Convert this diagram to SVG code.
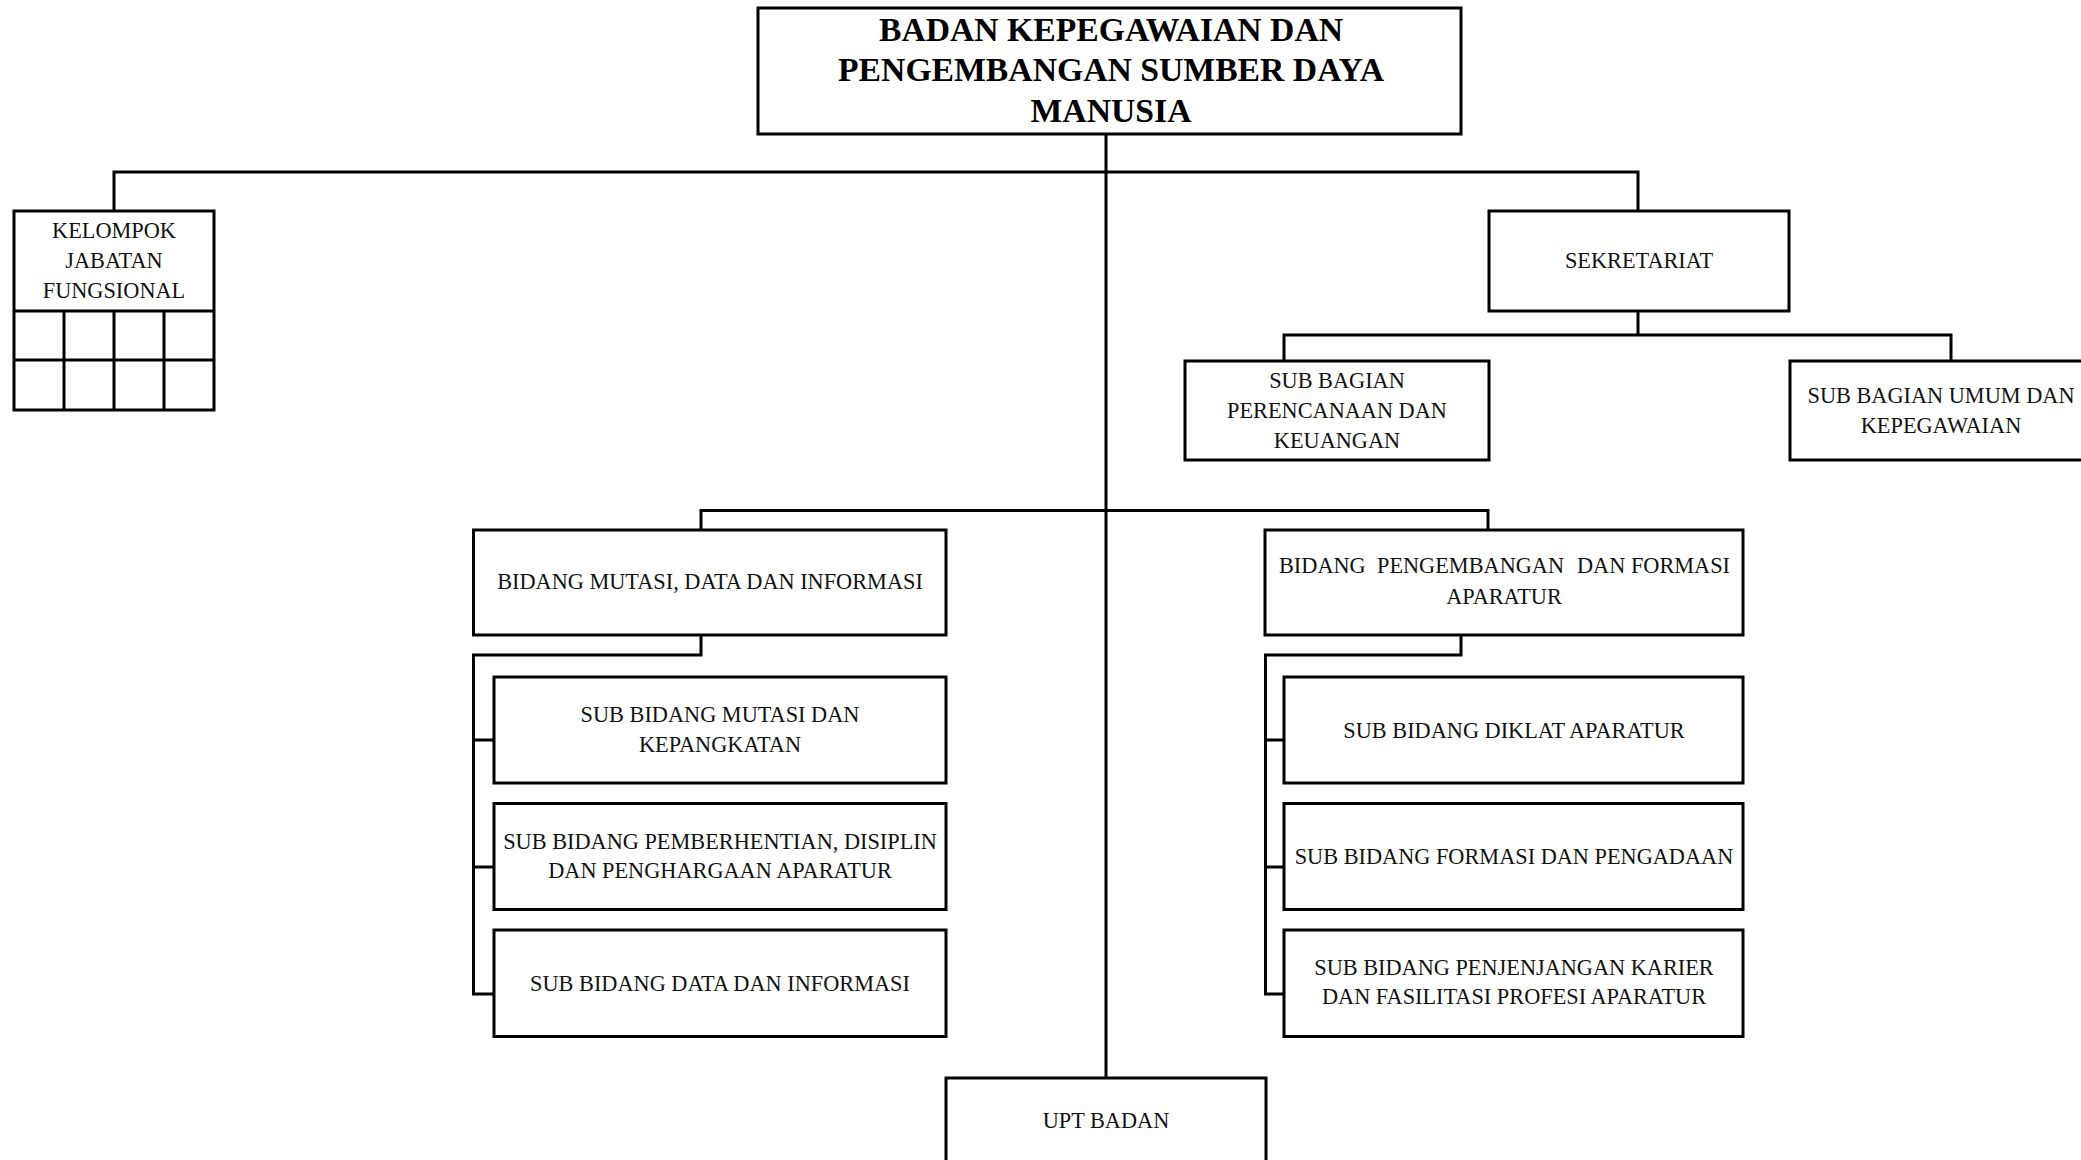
<svg xmlns="http://www.w3.org/2000/svg" width="2081" height="1160" viewBox="0 0 2081 1160">
<style>
.box{fill:#fff;stroke:#000;stroke-width:3}
.ln{fill:none;stroke:#000;stroke-width:3}
.t{font-family:"Liberation Serif","Times New Roman",serif;font-size:22.3px;fill:#111;text-anchor:middle}
.tb{font-family:"Liberation Serif","Times New Roman",serif;font-size:33.7px;font-weight:bold;fill:#000;text-anchor:middle}
</style>
<rect width="2081" height="1160" fill="#fff"/>
<g id="connectors">
<path class="ln" d="M1106,134 V1078"/>
<path class="ln" d="M114,211 V172 H1638 V211"/>
<path class="ln" d="M1638,311 V335"/>
<path class="ln" d="M1284,361 V335 H1951 V361"/>
<path class="ln" d="M701,530 V510.5 H1488 V530"/>
<path class="ln" d="M701,635 V655 H473.5 V994 H494"/>
<path class="ln" d="M473.5,740 H494 M473.5,867 H494"/>
<path class="ln" d="M1461,635 V655 H1265.5 V994 H1284"/>
<path class="ln" d="M1265.5,740 H1284 M1265.5,867 H1284"/>
</g>
<g id="kepala">
<rect class="box" x="758" y="8" width="703" height="126"/>
<text class="tb" x="1111" y="40.5">BADAN KEPEGAWAIAN DAN</text>
<text class="tb" x="1111" y="81">PENGEMBANGAN SUMBER DAYA</text>
<text class="tb" x="1111" y="121.5">MANUSIA</text>
</g>
<g id="kelompok-jabatan-fungsional">
<rect class="box" x="14" y="211" width="200" height="199"/>
<path class="ln" d="M14,311 H214 M14,360 H214 M64,311 V410 M114,311 V410 M164,311 V410"/>
<text class="t" x="114" y="237.5">KELOMPOK</text>
<text class="t" x="114" y="267.5">JABATAN</text>
<text class="t" x="114" y="297.5">FUNGSIONAL</text>
</g>
<g id="sekretariat">
<rect class="box" x="1489" y="211" width="300" height="100"/>
<text class="t" x="1639" y="267.5">SEKRETARIAT</text>
</g>
<g id="sub-bagian-perencanaan">
<rect class="box" x="1185" y="361" width="304" height="99"/>
<text class="t" x="1337" y="387.5">SUB BAGIAN</text>
<text class="t" x="1337" y="417.5">PERENCANAAN DAN</text>
<text class="t" x="1337" y="447.5">KEUANGAN</text>
</g>
<g id="sub-bagian-umum">
<rect class="box" x="1790" y="361" width="304" height="99"/>
<text class="t" x="1941" y="402.5">SUB BAGIAN UMUM DAN</text>
<text class="t" x="1941" y="432.5">KEPEGAWAIAN</text>
</g>
<g id="bidang-mutasi">
<rect class="box" x="473.5" y="530" width="472.5" height="105"/>
<text class="t" x="710" y="589">BIDANG MUTASI, DATA DAN INFORMASI</text>
</g>
<g id="bidang-pengembangan">
<rect class="box" x="1265" y="530" width="478" height="105"/>
<text class="t" style="text-anchor:start" y="573"><tspan x="1279">BIDANG</tspan><tspan x="1377">PENGEMBANGAN</tspan><tspan x="1577">DAN FORMASI</tspan></text>
<text class="t" x="1504" y="603.5">APARATUR</text>
</g>
<g id="sub-bidang-mutasi">
<rect class="box" x="494" y="677" width="452" height="106"/>
<text class="t" x="720" y="722">SUB BIDANG MUTASI DAN</text>
<text class="t" x="720" y="752">KEPANGKATAN</text>
</g>
<g id="sub-bidang-pemberhentian">
<rect class="box" x="494" y="803.5" width="452" height="106"/>
<text class="t" x="720" y="848.5">SUB BIDANG PEMBERHENTIAN, DISIPLIN</text>
<text class="t" x="720" y="877.5">DAN PENGHARGAAN APARATUR</text>
</g>
<g id="sub-bidang-data">
<rect class="box" x="494" y="930" width="452" height="106.5"/>
<text class="t" x="720" y="991">SUB BIDANG DATA DAN INFORMASI</text>
</g>
<g id="sub-bidang-diklat">
<rect class="box" x="1284" y="677" width="459" height="106"/>
<text class="t" x="1514" y="737.5">SUB BIDANG DIKLAT APARATUR</text>
</g>
<g id="sub-bidang-formasi">
<rect class="box" x="1284" y="803.5" width="459" height="106"/>
<text class="t" x="1514" y="863.5">SUB BIDANG FORMASI DAN PENGADAAN</text>
</g>
<g id="sub-bidang-penjenjangan">
<rect class="box" x="1284" y="930" width="459" height="106.5"/>
<text class="t" x="1514" y="975">SUB BIDANG PENJENJANGAN KARIER</text>
<text class="t" x="1514" y="1004">DAN FASILITASI PROFESI APARATUR</text>
</g>
<g id="upt-badan">
<rect class="box" x="946" y="1078" width="320" height="100"/>
<text class="t" x="1106" y="1127.5">UPT BADAN</text>
</g>
</svg>
